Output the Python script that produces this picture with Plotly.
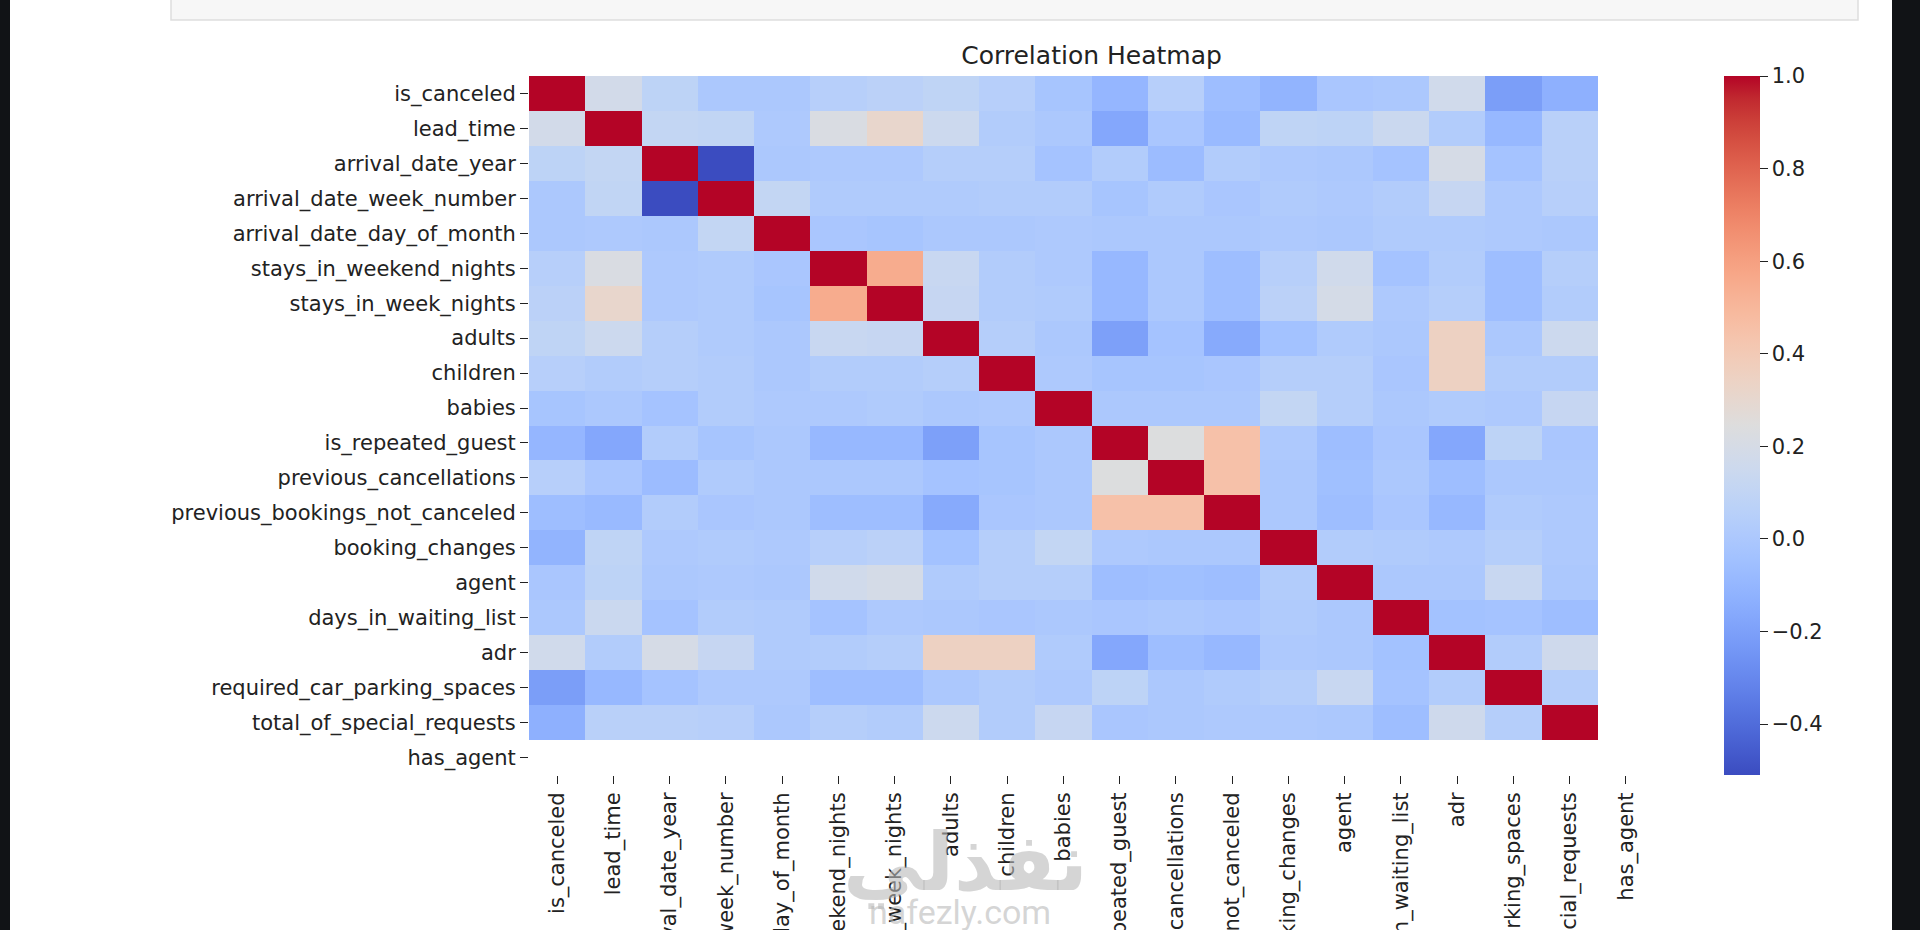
import plotly.graph_objects as go

# feature names (same order on both axes)
features = [
    "is_canceled", "lead_time", "arrival_date_year", "arrival_date_week_number",
    "arrival_date_day_of_month", "stays_in_weekend_nights", "stays_in_week_nights",
    "adults", "children", "babies", "is_repeated_guest", "previous_cancellations",
    "previous_bookings_not_canceled", "booking_changes", "agent",
    "days_in_waiting_list", "adr", "required_car_parking_spaces",
    "total_of_special_requests", "has_agent",
]

N = None  # has_agent is constant -> NaN correlations

corr = [
    [1.00, 0.18, 0.08, 0.00, 0.00, 0.05, 0.07, 0.09, 0.05, -0.02, -0.10, 0.05, -0.06, -0.11, -0.01, 0.00, 0.17, -0.21, -0.13, N],
    [0.18, 1.00, 0.11, 0.10, 0.01, 0.22, 0.31, 0.15, 0.03, 0.00, -0.17, -0.01, -0.08, 0.09, 0.08, 0.14, 0.03, -0.09, 0.06, N],
    [0.08, 0.11, 1.00, -0.51, 0.00, 0.01, 0.01, 0.04, 0.04, -0.03, 0.03, -0.07, 0.03, 0.01, 0.00, -0.03, 0.20, -0.03, 0.06, N],
    [0.00, 0.10, -0.51, 1.00, 0.11, 0.02, 0.02, 0.02, 0.03, 0.03, -0.02, 0.02, -0.01, 0.02, 0.01, 0.03, 0.12, 0.01, 0.05, N],
    [0.00, 0.01, 0.00, 0.11, 1.00, -0.01, -0.02, 0.00, 0.00, 0.01, 0.00, 0.00, 0.00, 0.01, 0.00, 0.02, 0.02, 0.01, 0.00, N],
    [0.05, 0.22, 0.01, 0.02, -0.01, 1.00, 0.55, 0.13, 0.03, 0.01, -0.09, 0.00, -0.06, 0.05, 0.17, -0.03, 0.03, -0.06, 0.04, N],
    [0.07, 0.31, 0.01, 0.02, -0.02, 0.55, 1.00, 0.12, 0.03, 0.02, -0.09, 0.00, -0.06, 0.07, 0.19, 0.01, 0.04, -0.06, 0.03, N],
    [0.09, 0.15, 0.04, 0.02, 0.00, 0.13, 0.12, 1.00, 0.04, 0.00, -0.20, -0.03, -0.16, -0.04, 0.02, 0.00, 0.35, 0.00, 0.15, N],
    [0.05, 0.03, 0.04, 0.03, 0.00, 0.03, 0.03, 0.04, 1.00, 0.01, -0.02, -0.02, -0.01, 0.04, 0.04, -0.01, 0.35, 0.03, 0.03, N],
    [-0.02, 0.00, -0.03, 0.03, 0.01, 0.01, 0.02, 0.00, 0.01, 1.00, 0.00, 0.00, 0.00, 0.11, 0.04, 0.00, 0.02, 0.01, 0.12, N],
    [-0.10, -0.17, 0.03, -0.02, 0.00, -0.09, -0.09, -0.20, -0.02, 0.00, 1.00, 0.24, 0.45, 0.01, -0.06, -0.01, -0.17, 0.08, -0.01, N],
    [0.05, -0.01, -0.07, 0.02, 0.00, 0.00, 0.00, -0.03, -0.02, 0.00, 0.24, 1.00, 0.45, 0.00, -0.05, 0.00, -0.06, 0.00, 0.00, N],
    [-0.06, -0.08, 0.03, -0.01, 0.00, -0.06, -0.06, -0.16, -0.01, 0.00, 0.45, 0.45, 1.00, 0.00, -0.06, -0.01, -0.09, 0.02, 0.01, N],
    [-0.11, 0.09, 0.01, 0.02, 0.01, 0.05, 0.07, -0.04, 0.04, 0.11, 0.01, 0.00, 0.00, 1.00, 0.03, 0.02, 0.01, 0.04, 0.01, N],
    [-0.01, 0.08, 0.00, 0.01, 0.00, 0.17, 0.19, 0.02, 0.04, 0.04, -0.06, -0.05, -0.06, 0.03, 1.00, 0.00, 0.00, 0.13, 0.00, N],
    [0.00, 0.14, -0.03, 0.03, 0.02, -0.03, 0.01, 0.00, -0.01, 0.00, -0.01, 0.00, -0.01, 0.02, 0.00, 1.00, -0.04, -0.03, -0.06, N],
    [0.17, 0.03, 0.20, 0.12, 0.02, 0.03, 0.04, 0.35, 0.35, 0.02, -0.17, -0.06, -0.09, 0.01, 0.00, -0.04, 1.00, 0.03, 0.16, N],
    [-0.21, -0.09, -0.03, 0.01, 0.01, -0.06, -0.06, 0.00, 0.03, 0.01, 0.08, 0.00, 0.02, 0.04, 0.13, -0.03, 0.03, 1.00, 0.04, N],
    [-0.13, 0.06, 0.06, 0.05, 0.00, 0.04, 0.03, 0.15, 0.03, 0.12, -0.01, 0.00, 0.01, 0.01, 0.00, -0.06, 0.16, 0.04, 1.00, N],
    [N] * 20,
]

cbar_ticks = [-0.4, -0.2, 0.0, 0.2, 0.4, 0.6, 0.8, 1.0]

# matplotlib "coolwarm" (Moreland diverging map)
coolwarm_rgb = [
    (59, 76, 192), (68, 90, 204), (77, 104, 215), (87, 117, 225), (98, 130, 234),
    (108, 142, 241), (119, 154, 247), (130, 165, 251), (141, 176, 254), (152, 185, 255),
    (163, 194, 255), (174, 201, 253), (184, 208, 249), (194, 213, 244), (204, 217, 238),
    (213, 219, 230), (221, 221, 221), (229, 216, 209), (236, 211, 197), (241, 204, 185),
    (245, 196, 173), (247, 187, 160), (247, 177, 148), (247, 166, 135), (244, 154, 123),
    (241, 141, 111), (236, 127, 99), (229, 112, 88), (222, 96, 77), (213, 80, 66),
    (203, 62, 56), (192, 40, 47), (180, 4, 38),
]
coolwarm = [[i / (len(coolwarm_rgb) - 1), "rgb(%d,%d,%d)" % c] for i, c in enumerate(coolwarm_rgb)]

W, H = 1920, 930
L, R, T, B = 529, 266, 76, 155
pw, ph = W - L - R, H - T - B


def px_x(x):
    return (x - L) / pw


def px_y(y):
    return (H - B - y) / ph


font = "DejaVu Sans"
ink = "#222222"

heat = go.Heatmap(
    z=corr, x=features, y=features,
    colorscale=coolwarm, zmin=-0.51, zmax=1.0,
    hoverongaps=False,
    colorbar=dict(
        x=px_x(1724), xanchor="left", xpad=0,
        y=0.5, yanchor="middle", ypad=0, len=ph, lenmode="pixels",
        thickness=36, thicknessmode="pixels", outlinewidth=0,
        tickvals=cbar_ticks, tickformat=".1f",
        ticks="outside", ticklen=8, tickcolor=ink,
        tickfont=dict(family=font, size=21, color=ink),
    ),
)

fig = go.Figure(data=[heat])

fig.update_layout(
    width=W, height=H,
    margin=dict(l=L, r=R, t=T, b=B, autoexpand=False),
    paper_bgcolor="white", plot_bgcolor="white",
    font=dict(family=font, size=21, color=ink),
    title=dict(
        text="Correlation Heatmap", x=0.5, xref="paper", xanchor="center",
        y=1 - 55 / H, yref="container", yanchor="middle",
        font=dict(family=font, size=25, color=ink),
    ),
    xaxis=dict(
        tickangle=-90, ticks="outside", ticklen=8, tickcolor=ink,
        showgrid=False, zeroline=False, showline=False, automargin=False,
        tickfont=dict(family=font, size=21, color=ink),
    ),
    yaxis=dict(
        autorange="reversed", ticks="outside", ticklen=8, tickcolor=ink,
        showgrid=False, zeroline=False, showline=False, automargin=False,
        tickfont=dict(family=font, size=21, color=ink),
    ),
    shapes=[
        # notebook cell above the figure
        dict(type="rect", xref="paper", yref="paper",
             x0=px_x(171), x1=px_x(1858), y0=px_y(20), y1=px_y(-5),
             fillcolor="#f7f7f7", line=dict(color="#dedede", width=1.5)),
        # dark window edges
        dict(type="rect", xref="paper", yref="paper",
             x0=px_x(-2), x1=px_x(10), y0=px_y(H + 2), y1=px_y(-2),
             fillcolor="#111316", line=dict(width=0)),
        dict(type="rect", xref="paper", yref="paper",
             x0=px_x(1892), x1=px_x(W + 2), y0=px_y(H + 2), y1=px_y(-2),
             fillcolor="#111316", line=dict(width=0)),
    ],
    annotations=[
        dict(text="<b>نفذلي</b>", xref="paper", yref="paper",
             x=px_x(965), y=px_y(862), xanchor="center", yanchor="middle",
             showarrow=False,
             font=dict(family=font, size=80, color="rgba(185,185,185,0.6)")),
        dict(text="nafezly.com", xref="paper", yref="paper",
             x=px_x(960), y=px_y(912), xanchor="center", yanchor="middle",
             showarrow=False,
             font=dict(family="Roboto", size=34, color="rgba(185,185,185,0.6)")),
    ],
)

# page body margin off so the figure sits at the window's top-left corner
fig.write_html(
    "out.html",
    config={"displayModeBar": False},
    post_script="document.body.style.margin='0px';",
)
